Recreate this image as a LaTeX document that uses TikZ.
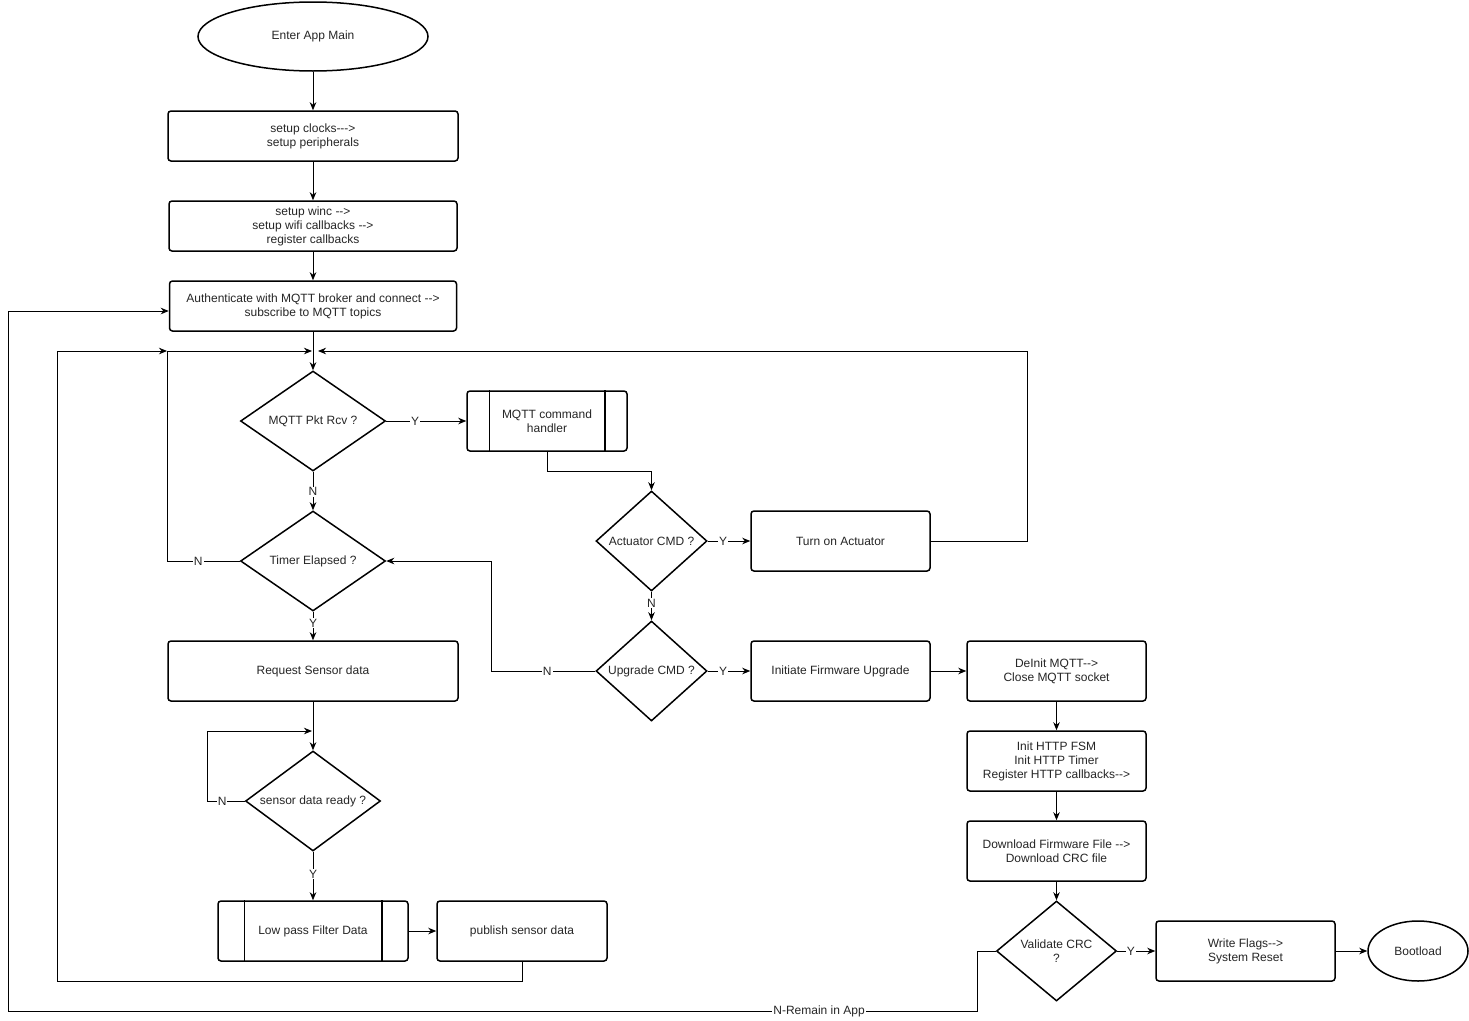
\documentclass[tikz,border=0pt]{standalone}
\usepackage{fontspec}
\newfontfamily\arialfont{Liberation Sans}
\usetikzlibrary{shapes.geometric,arrows.meta,calc}
\begin{document}
\begin{tikzpicture}[x=1pt,y=-1pt,
  font=\arialfont\fontsize{12}{14}\selectfont,
  every node/.style={text=black!85},
  box/.style={draw=black, line width=1.5pt, rounded corners=3pt, align=center, inner sep=0pt},
  dia/.style={draw=black, diamond, shape aspect=1.3, line width=1.5pt, align=center, inner sep=0pt},
  ell/.style={draw=black, ellipse, line width=1.5pt, align=center, inner sep=0pt},
  arr/.style={draw=black, line width=0.9pt, -{Stealth[length=8pt,width=6.5pt,inset=2.5pt]}},
  lbl/.style={fill=white, inner sep=1pt}]
\useasboundingbox[fill=white] (0,0) rectangle (1469,1020);

% nodes
\node[ell, minimum width=230pt, minimum height=69pt] (start) at (313,36.5) {Enter App Main};
\node[box, minimum width=290pt, minimum height=50pt] (clk) at (313,136) {setup clocks---{>}\\setup peripherals};
\node[box, minimum width=288pt, minimum height=50pt] (winc) at (313,226) {setup winc --{>}\\setup wifi callbacks --{>}\\register callbacks};
\node[box, minimum width=287pt, minimum height=50pt] (auth) at (313,306) {Authenticate with MQTT broker and connect --{>}\\subscribe to MQTT topics};
\node[dia, minimum width=145pt, minimum height=100pt] (pkt) at (313,421) {MQTT Pkt Rcv ?};
\node[box, minimum width=160pt, minimum height=60pt] (mqh) at (547,421) {MQTT command\\handler};
\node[dia, minimum width=111pt, minimum height=100pt] (act) at (651.5,541) {Actuator CMD ?};
\node[box, minimum width=179pt, minimum height=60pt] (ton) at (840.5,541) {Turn on Actuator};
\node[dia, minimum width=145pt, minimum height=100pt] (tim) at (313,561) {Timer Elapsed ?};
\node[box, minimum width=290pt, minimum height=60pt] (req) at (313,671) {Request Sensor data};
\node[dia, minimum width=111pt, minimum height=100pt] (upg) at (651.5,671) {Upgrade CMD ?};
\node[box, minimum width=179pt, minimum height=60pt] (ifu) at (840.5,671) {Initiate Firmware Upgrade};
\node[box, minimum width=179pt, minimum height=60pt] (dei) at (1056.5,671) {DeInit MQTT--{>}\\Close MQTT socket};
\node[box, minimum width=179pt, minimum height=60pt] (http) at (1056.5,761) {Init HTTP FSM\\Init HTTP Timer\\Register HTTP callbacks--{>}};
\node[box, minimum width=179pt, minimum height=60pt] (dl) at (1056.5,851) {Download Firmware File --{>}\\Download CRC file};
\node[dia, minimum width=120pt, minimum height=100pt] (crc) at (1056.5,951) {Validate CRC\\?};
\node[box, minimum width=179pt, minimum height=60pt] (wf) at (1245.5,951) {Write Flags--{>}\\System Reset};
\node[ell, minimum width=100pt, minimum height=60pt] (boot) at (1418,951) {Bootload};
\node[dia, minimum width=135pt, minimum height=100pt] (sdr) at (313,801) {sensor data ready ?};
\node[box, minimum width=190pt, minimum height=60pt] (lpf) at (313,931) {Low pass Filter Data};
\node[box, minimum width=170pt, minimum height=60pt] (pub) at (522,931) {publish sensor data};

% subprocess inner lines
\draw[line width=1.5pt] ([xshift=23pt]mqh.north west) -- ([xshift=23pt]mqh.south west);
\draw[line width=1.5pt] ([xshift=-23pt]mqh.north east) -- ([xshift=-23pt]mqh.south east);
\draw[line width=1.5pt] ([xshift=27pt]lpf.north west) -- ([xshift=27pt]lpf.south west);
\draw[line width=1.5pt] ([xshift=-27pt]lpf.north east) -- ([xshift=-27pt]lpf.south east);

% junction coordinates
\coordinate (j1) at (312,351);
\coordinate (j2) at (167,351);
\coordinate (j3) at (318,351);
\coordinate (j4) at (312,731);

% connectors
\draw[arr] (start) -- (clk);
\draw[arr] (clk) -- (winc);
\draw[arr] (winc) -- (auth);
\draw[arr] (auth) -- (pkt.north);
\draw[arr] (pkt.east) -- node[lbl, pos=0.36] {Y} (mqh.west);
\draw[arr] (mqh.south) -- (547,471) -- (651.5,471) -- (act.north);
\draw[arr] (pkt.south) -- node[lbl, pos=0.52] {N} (tim.north);
\draw[arr] (act.east) -- node[lbl, pos=0.36] {Y} (ton.west);
\draw[arr] (ton.east) -- (1027,541) -- (1027,351) -- (j3);
\draw[arr] (act.south) -- node[lbl, pos=0.4] {N} (upg.north);
\draw[arr] (upg.west) -- node[lbl, pos=0.46] {N} (491,671) -- (491,561) -- (tim.east);
\draw[arr] (upg.east) -- node[lbl, pos=0.36] {Y} (ifu.west);
\draw[arr] (ifu) -- (dei);
\draw[arr] (dei) -- (http);
\draw[arr] (http) -- (dl);
\draw[arr] (dl) -- (crc);
\draw[arr] (crc.east) -- node[lbl, pos=0.36] {Y} (wf.west);
\draw[arr] (wf) -- (boot);
\draw[arr] (crc.west) -- (977,951) -- (977,1011) -- node[lbl, pos=0.163] {N-Remain in App} (8,1011) -- (8,311) -- ([yshift=-5pt]auth.west);
\draw[arr] (tim.west) -- node[lbl, pos=0.57] {N} (167,561) -- (167,351) -- (j1);
\draw[arr] (tim.south) -- node[lbl, pos=0.4] {Y} (req.north);
\draw[arr] (req) -- (sdr.north);
\draw[arr] (sdr.west) -- node[lbl, pos=0.6] {N} (207,801) -- (207,731) -- (j4);
\draw[arr] (sdr.south) -- node[lbl, pos=0.46] {Y} (lpf.north);
\draw[arr] (lpf) -- (pub);
\draw[arr] (pub.south) -- (522,981) -- (57,981) -- (57,351) -- (j2);
\end{tikzpicture}
\end{document}
